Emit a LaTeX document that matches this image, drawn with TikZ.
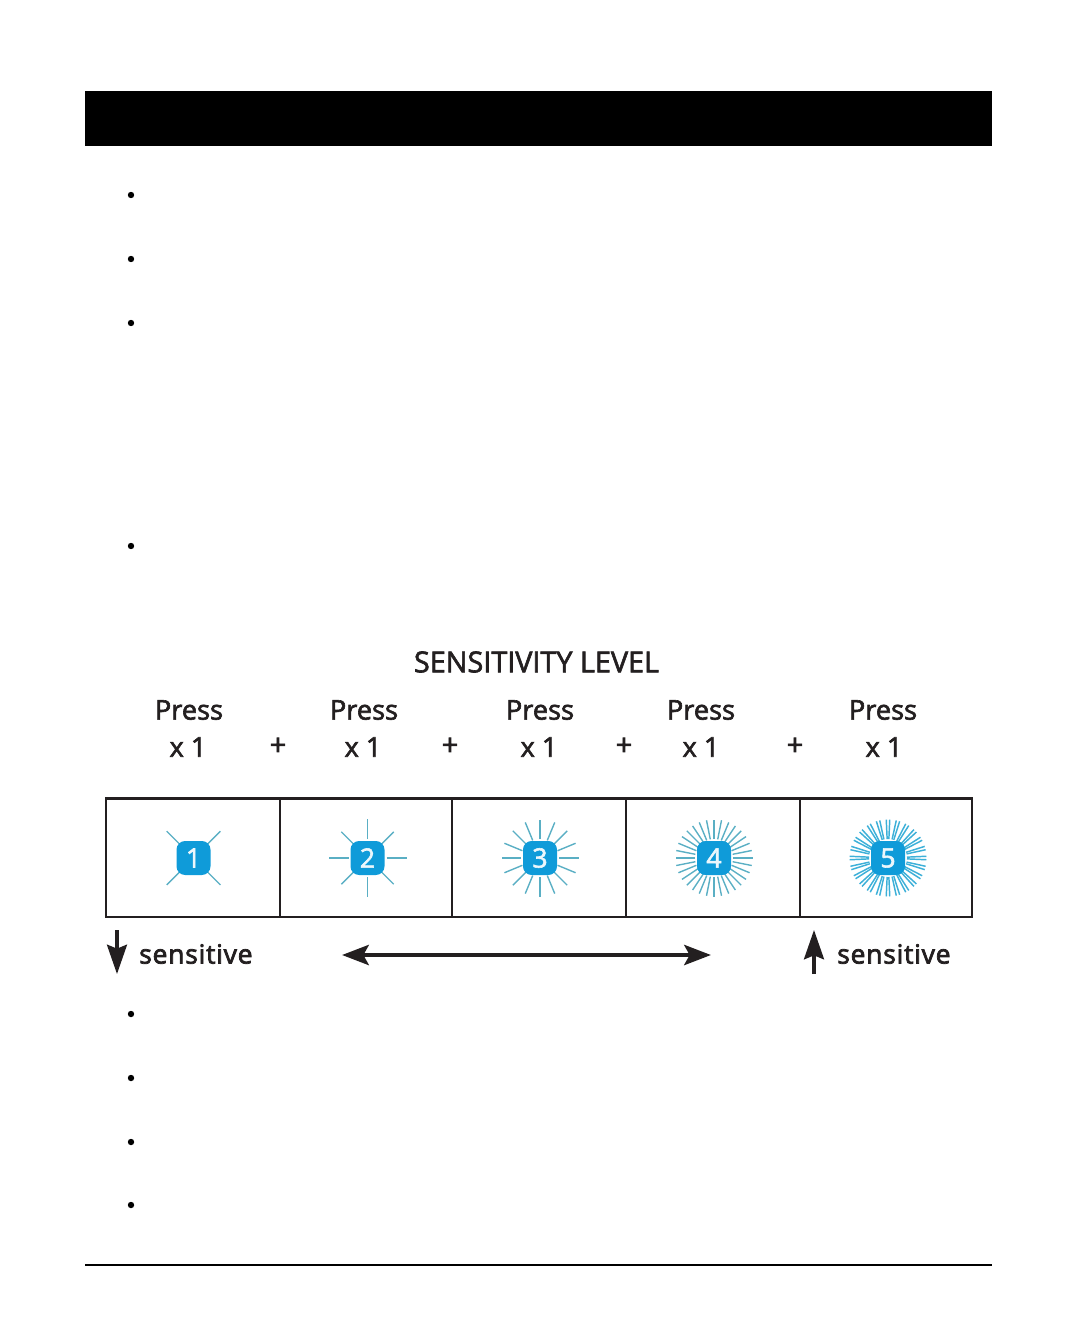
\documentclass[tikz,border=0pt]{standalone}
\usepackage{fontspec}
\setmainfont{Open Sans}
\newfontfamily\semifont[FakeBold=2.2]{Open Sans}
\newfontfamily\sensefont[FakeBold=2.8,LetterSpace=3]{Open Sans}
\usetikzlibrary{arrows.meta}
\definecolor{ink}{HTML}{231F20}
\definecolor{keyblue}{HTML}{0F9BD9}
\definecolor{raycol}{HTML}{5AAFC4}
\definecolor{raybright}{HTML}{3DB0D8}
\tikzset{
  px/.style={x=0.75pt,y=-0.75pt},
  cellbox/.style={draw=ink,line width=1.7pt},
  keybox/.style={fill=keyblue,rounded corners=6.5pt,minimum size=25.5pt,inner sep=0pt,text=white!92!keyblue,font=\semifont\fontsize{20}{20}\selectfont},
  ray/.style={draw=raycol,line width=1.05pt},
  brightray/.style={draw=raybright,line width=1.1pt},
  bulletdot/.style={circle,fill=black,minimum size=4.8pt,inner sep=0pt},
  titletext/.style={text=ink,font=\semifont\fontsize{21.6}{24}\selectfont,inner sep=0pt},
  presstext/.style={text=ink,font=\semifont\fontsize{20.4}{24}\selectfont,inner sep=0pt},
  plustext/.style={text=ink,font=\semifont\fontsize{22}{24}\selectfont,inner sep=0pt},
  sensetext/.style={text=ink,font=\sensefont\fontsize{19.8}{24}\selectfont,inner sep=0pt},
  bigarrow/.style={draw=ink,line width=3.4pt,{Stealth[length=20pt,width=15pt,inset=4pt]}-{Stealth[length=20pt,width=15pt,inset=4pt]}},
  updown/.style={draw=ink,line width=2.4pt,-{Stealth[length=22pt,width=15pt,inset=3pt]}},
}
% #1 centre name, #2 ray count, #3 start angle, #4 outer radius, #5 style
\newcommand{\sunrays}[5]{%
  \pgfmathsetmacro{\sstep}{360/#2}
  \pgfmathsetmacro{\slast}{#2-1}
  \foreach \k in {0,...,\slast}{
    \pgfmathsetmacro{\ang}{#3+\k*\sstep}
    \draw[#5] (#1)++(\ang:19) -- ++(\ang:#4-19);
  }}
\begin{document}
\begin{tikzpicture}[px]
\useasboundingbox (0,0) rectangle (1077,1338);
\fill[black] (85,91) rectangle (992,146);
\draw[black,line width=1.2pt] (85,1265) -- (992,1265);
\foreach \n/\y in {a/195,b/259,c/323,d/546,e/1014,f/1078,g/1142,h/1205}
  \node[bulletdot] (bul\n) at (131,\y) {};
\node[titletext] (title) at (536.5,662) {SENSITIVITY LEVEL};
\foreach \n/\xa/\xb in {1/189/188,2/364/363,3/540/539,4/701/701,5/883/884}{
  \node[presstext] (press\n) at (\xa,710) {Press};
  \node[presstext] (times\n) at (\xb,747) {x 1};
}
\foreach \n/\x in {1/278,2/450,3/624,4/795}
  \node[plustext] (plus\n) at (\x,746.5) {+};
% cells
\draw[cellbox] (106,798.5) rectangle (972,917);
\foreach \n/\x in {1/280,2/452,3/626,4/800}
  \draw[cellbox] (\x,798.5) -- (\x,917);
% rays and keys
\coordinate (c1) at (193.5,858);
\coordinate (c2) at (367.5,858);
\coordinate (c3) at (540,858);
\coordinate (c4) at (714,858);
\coordinate (c5) at (888,858);
\sunrays{c1}{4}{45}{38}{ray}
\sunrays{c2}{4}{45}{37}{ray}
\sunrays{c2}{4}{0}{39}{ray}
\sunrays{c3}{16}{0}{38.5}{ray}
\sunrays{c4}{32}{0}{38.5}{ray}
\sunrays{c5}{24}{-2.6}{38.5}{brightray}
\sunrays{c5}{24}{2.6}{38.5}{brightray}
\foreach \n in {1,...,5}
  \node[keybox] (key\n) at (c\n) {\n};
% arrows
\coordinate (dtop) at (117,930);
\coordinate (dbot) at (117,974);
\coordinate (utop) at (814,930);
\coordinate (ubot) at (814,974);
\coordinate (dl) at (342,955);
\coordinate (dr) at (711,955);
\draw[updown] (dtop) -- (dbot);
\draw[updown] (ubot) -- (utop);
\draw[bigarrow] (dl) -- (dr);
\node[sensetext,anchor=west] (sens1) at (139,954) {sensitive};
\node[sensetext,anchor=west] (sens2) at (837,954) {sensitive};
\end{tikzpicture}
\end{document}
